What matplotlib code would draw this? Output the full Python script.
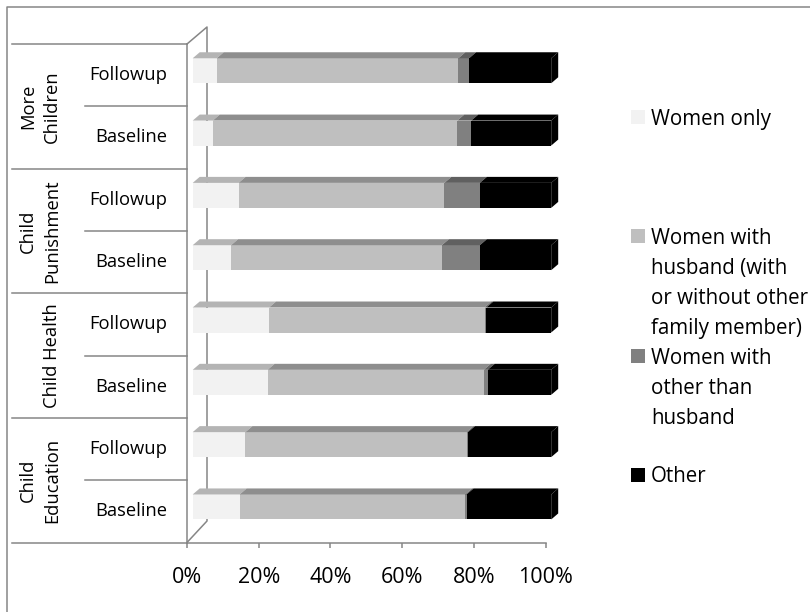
import numpy as np
import matplotlib
matplotlib.use("Agg")
import matplotlib.pyplot as plt
from matplotlib.transforms import ScaledTranslation, blended_transform_factory
from matplotlib.patches import Polygon
from matplotlib.lines import Line2D

plt.rcParams['font.family'] = ['Open Sans', 'DejaVu Sans']

# ---- data (percent of respondents, bars listed top to bottom) ----
groups = ["More\nChildren", "Child\nPunishment", "Child Health", "Child\nEducation"]
rounds = ["Followup", "Baseline"]
women_only = [6.7, 5.6, 12.8, 10.7, 21.3, 20.9, 14.7, 13.1]
with_husband = [67.4, 68.2, 57.4, 58.8, 60.1, 60.3, 61.7, 62.9]
other_than_husband = [3.0, 3.9, 9.9, 10.6, 0.5, 1.1, 0.4, 0.4]
other = [22.9, 22.3, 19.9, 19.9, 18.1, 17.7, 23.2, 23.6]
series_names = ["Women only",
                "Women with\nhusband (with\nor without other\nfamily member)",
                "Women with\nother than\nhusband",
                "Other"]
xticks = [0, 20, 40, 60, 80, 100]

front_colors = ['#F2F2F2', '#BFBFBF', '#808080', '#000000']
top_colors = ['#B4B4B4', '#8E8E8E', '#606060', '#000000']
gray = '#868686'

W, H = 810, 612
fig = plt.figure(figsize=(W / 100, H / 100), dpi=100)


def fx(x):
    return x / W


def fy(y):
    return 1 - y / H


ax_l, ax_r, ax_t, ax_b = 187, 545.5, 44, 542.5
ax = fig.add_axes([fx(ax_l), fy(ax_b), (ax_r - ax_l) / W, (ax_b - ax_t) / H])
n_bars = len(women_only)
ax.set_xlim(0, 100)
ax.set_ylim(-0.5, n_bars - 0.5)

ypos = np.arange(n_bars)[::-1]
px_x = (ax_r - ax_l) / 100.0
px_y = (ax_b - ax_t) / n_bars
ddx, ddy = 7 / px_x, 6 / px_y          # depth of each bar (data units)
bh = 25 / px_y                          # front face height

# bars sit a little behind the floor's front edge
bar_tr = ax.transData + ScaledTranslation(5.7 / 100, 4.4 / 100, fig.dpi_scale_trans)

series = [women_only, with_husband, other_than_husband, other]
left = np.zeros(n_bars)
for k, vals in enumerate(series):
    vals = np.asarray(vals, dtype=float)
    bars = ax.barh(ypos, vals, left=left, height=bh, color=front_colors[k],
                   linewidth=0, zorder=2)
    for p in bars:
        p.set_transform(bar_tr)
        p.set_clip_on(False)
    for i in range(n_bars):
        l, r = left[i], left[i] + vals[i]
        top = ypos[i] + bh / 2
        poly = Polygon([(l, top), (r, top), (r + ddx, top + ddy), (l + ddx, top + ddy)],
                       closed=True, facecolor=top_colors[k], edgecolor='none',
                       transform=bar_tr, zorder=2, clip_on=False)
        ax.add_patch(poly)
        if k == len(series) - 1:
            bot = ypos[i] - bh / 2
            side = Polygon([(r, bot), (r, top), (r + ddx, top + ddy), (r + ddx, bot + ddy)],
                           closed=True, facecolor=front_colors[k], edgecolor='none',
                           transform=bar_tr, zorder=2, clip_on=False)
            ax.add_patch(side)
    left = left + vals

# axes styling
for s in ['top', 'right']:
    ax.spines[s].set_visible(False)
for s in ['bottom', 'left']:
    ax.spines[s].set_color(gray)
    ax.spines[s].set_linewidth(1.1)
ax.set_yticks([])
ax.set_xticks(xticks)
ax.set_xticklabels([f"{t}%" for t in xticks])
ax.tick_params(axis='x', direction='out', length=3.6, width=1.1, color=gray,
               labelsize=15.5, pad=14, labelcolor='black')
ax.patch.set_visible(False)

# back wall and floor side edges
wall = Line2D([fx(187), fx(207), fx(207), fx(187)],
              [fy(44), fy(27), fy(521), fy(542.5)],
              transform=fig.transFigure, color=gray, lw=1.1, zorder=0.5, clip_on=False)
ax.add_line(wall)

# category table on the left
btr = blended_transform_factory(fig.transFigure, ax.transData)
for b in np.arange(-0.5, n_bars, 2):
    ax.add_line(Line2D([fx(12), fx(187)], [b, b], transform=btr, color=gray,
                       lw=1.1, clip_on=False))
for b in np.arange(0.5, n_bars, 2):
    ax.add_line(Line2D([fx(85), fx(187)], [b, b], transform=btr, color=gray,
                       lw=1.1, clip_on=False))

for i in range(n_bars):
    ax.text(fx(167), ypos[i], rounds[i % 2], transform=btr, ha='right', va='center',
            fontsize=13.2, color='black')

for g, name in enumerate(groups):
    yc = ypos[2 * g] - 0.5
    xc = 40 if '\n' in name else 52
    ax.text(fx(xc), yc, name, transform=btr, rotation=90, ha='center', va='center',
            multialignment='center', fontsize=13.2, linespacing=1.4, color='black')

# legend, entries spread evenly down the right side
leg_y = [117, 236, 356, 475]
for k, name in enumerate(series_names):
    y0 = leg_y[k]
    fig.patches.append(plt.Rectangle((fx(631), fy(y0 + 7)), 14 / W, 14 / H,
                                     transform=fig.transFigure, facecolor=front_colors[k],
                                     edgecolor='none'))
    fig.text(fx(651), fy(y0 - 8.5), name, ha='left', va='top', fontsize=14.8,
             linespacing=1.58, color='black')

# outer chart frame
fig.add_artist(Line2D([fx(7), fx(7), fx(812)], [fy(614), fy(6.5), fy(6.5)],
                      transform=fig.transFigure, color=gray, lw=1.1))

fig.savefig("out.png", dpi=100)
